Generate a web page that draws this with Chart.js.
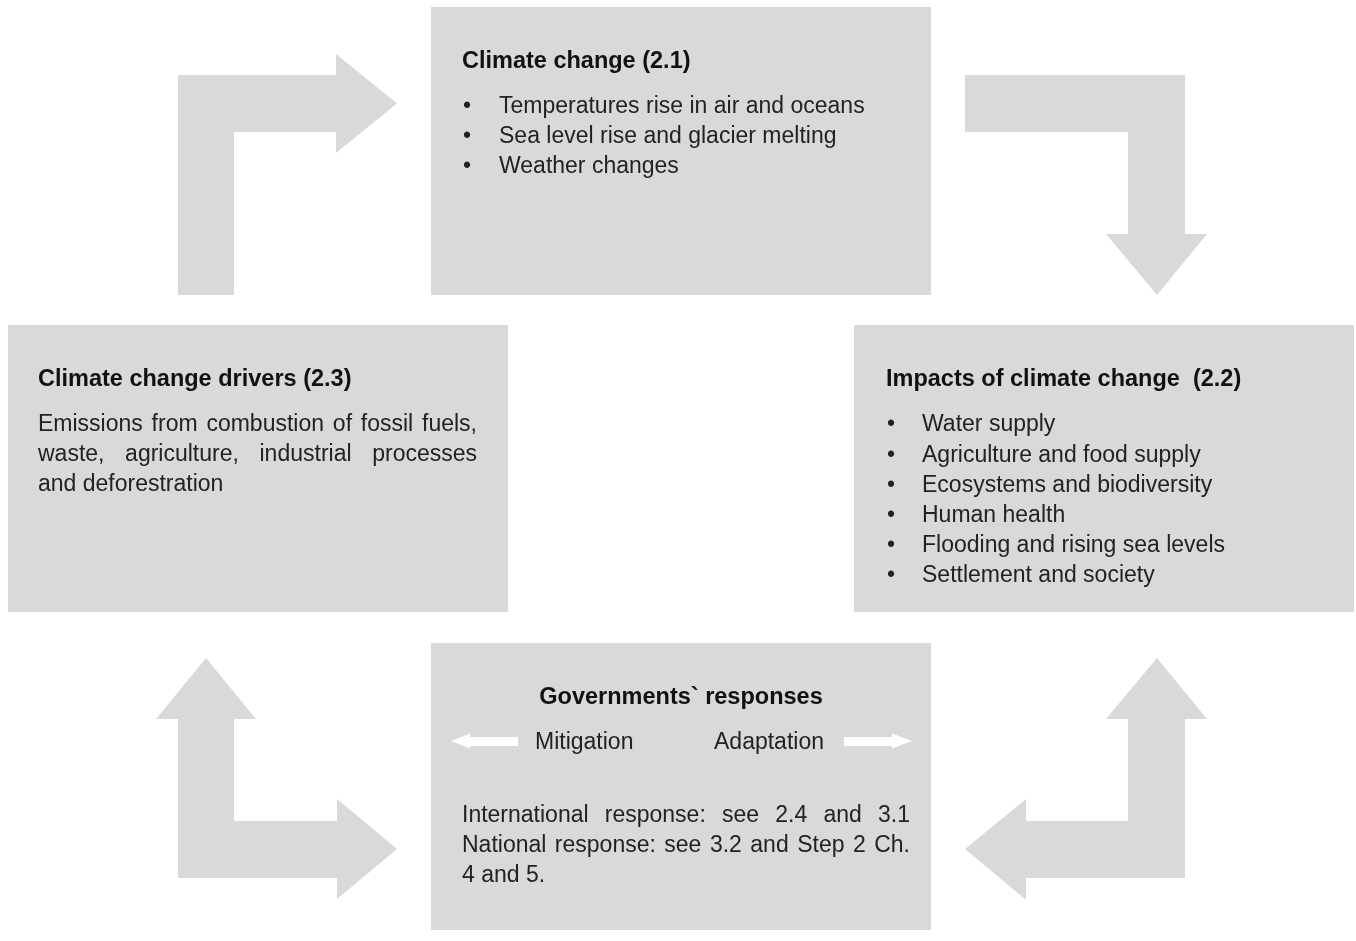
<!DOCTYPE html>
<html>
<head>
<meta charset="utf-8">
<script src="https://cdn.jsdelivr.net/npm/chart.js@4/dist/chart.umd.min.js"></script>
<style>
  body { margin: 0; background: #fff; }
  #diagram { display: block; }
</style>
</head>
<body>
<canvas id="diagram" width="1356" height="941"></canvas>
<script>
// Texto del diagrama
var climateTitle = 'Climate change (2.1)';
var climateItems = ['Temperatures rise in air and oceans', 'Sea level rise and glacier melting', 'Weather changes'];
var impactsTitle = 'Impacts of climate change  (2.2)';
var impactsItems = ['Water supply', 'Agriculture and food supply', 'Ecosystems and biodiversity', 'Human health', 'Flooding and rising sea levels', 'Settlement and society'];
var driversTitle = 'Climate change drivers (2.3)';
var driversLines = ['Emissions from combustion of fossil fuels,', 'waste, agriculture, industrial processes', 'and deforestration'];
var responsesTitle = 'Governments` responses';
var responsesSides = ['Mitigation', 'Adaptation'];
var responsesLines = ['International response: see 2.4 and 3.1', 'National response: see 3.2 and Step 2 Ch.', '4 and 5.'];

// Cajas (x0, y0, x1, y1) en coordenadas del diagrama
var boxClimate = [431, 7, 931, 295];
var boxDrivers = [8, 325, 508, 612];
var boxImpacts = [854, 325, 1354, 612];
var boxResponses = [431, 643, 931, 930];

// Flechas grises
var arrowTopLeft = [[178,295],[178,75],[336,75],[336,54],[397,103.5],[336,153],[336,132],[234,132],[234,295]];
var arrowTopRight = [[965,75],[1185,75],[1185,234],[1207,234],[1157,295],[1106,234],[1128,234],[1128,132],[965,132]];
var arrowBottomLeft = [[206,658],[256,719],[234,719],[234,821],[337,821],[337,799],[397,849],[337,899],[337,878],[178,878],[178,719],[156,719]];
var arrowBottomRight = [[1157,658],[1207,719],[1185,719],[1185,878],[1026,878],[1026,900],[965,849],[1026,799],[1026,821],[1128,821],[1128,719],[1106,719]];

// Flechas blancas (mitigación / adaptación)
var arrowMitigation = [[451,741],[470,733.5],[470,737],[518,737],[518,746],[470,746],[470,748.5]];
var arrowAdaptation = [[912,741],[892,733.5],[892,737],[844,737],[844,746],[892,746],[892,748.5]];

var GRIS = '#d9d9d9';

function rect(b){
  return [[b[0],b[1]],[b[2],b[1]],[b[2],b[3]],[b[0],b[3]]];
}
function forma(pts, color){
  var data = pts.map(p => ({x: p[0], y: p[1]}));
  data.push({x: pts[0][0], y: pts[0][1]});
  return {
    data: data,
    showLine: true,
    fill: 'shape',
    backgroundColor: color,
    borderColor: 'rgba(0,0,0,0)',
    borderWidth: 1,
    pointRadius: 0,
    tension: 0
  };
}

var FUENTE = '"Liberation Sans", Arial, Helvetica, sans-serif';
var TAM_TITULO = 23.5;
var TAM = 23;

function justificado(ctx, texto, x, y, ancho){
  var palabras = texto.split(' ');
  var total = palabras.reduce((s, w) => s + ctx.measureText(w).width, 0);
  var hueco = (ancho - total) / (palabras.length - 1);
  var cx = x;
  palabras.forEach(w => {
    ctx.fillText(w, cx, y);
    cx += ctx.measureText(w).width + hueco;
  });
}

var textos = {
  id: 'textos',
  afterDatasetsDraw(chart){
    var ctx = chart.ctx;
    var sx = chart.scales.x, sy = chart.scales.y;
    var X = v => sx.getPixelForValue(v), Y = v => sy.getPixelForValue(v);
    ctx.save();
    ctx.textBaseline = 'middle';

    // Climate change
    ctx.fillStyle = '#111';
    ctx.font = 'bold ' + TAM_TITULO + 'px ' + FUENTE;
    ctx.textAlign = 'left';
    ctx.fillText(climateTitle, X(462), Y(62));
    ctx.font = TAM + 'px ' + FUENTE;
    ctx.fillStyle = '#222';
    climateItems.forEach((t, i) => {
      ctx.textAlign = 'center';
      ctx.fillText('•', X(467), Y(107 + i * 30));
      ctx.textAlign = 'left';
      ctx.fillText(t, X(499), Y(107 + i * 30));
    });

    // Impacts
    ctx.fillStyle = '#111';
    ctx.font = 'bold ' + TAM_TITULO + 'px ' + FUENTE;
    ctx.fillText(impactsTitle, X(886), Y(380));
    ctx.font = TAM + 'px ' + FUENTE;
    ctx.fillStyle = '#222';
    impactsItems.forEach((t, i) => {
      var yy = 425 + i * 30.2;
      ctx.textAlign = 'center';
      ctx.fillText('•', X(891), Y(yy));
      ctx.textAlign = 'left';
      ctx.fillText(t, X(922), Y(yy));
    });

    // Drivers
    ctx.fillStyle = '#111';
    ctx.font = 'bold ' + TAM_TITULO + 'px ' + FUENTE;
    ctx.fillText(driversTitle, X(38), Y(380));
    ctx.font = TAM + 'px ' + FUENTE;
    ctx.fillStyle = '#222';
    driversLines.forEach((t, i) => {
      if (i < driversLines.length - 1) justificado(ctx, t, X(38), Y(425 + i * 30), X(477) - X(38));
      else ctx.fillText(t, X(38), Y(425 + i * 30));
    });

    // Responses
    ctx.fillStyle = '#111';
    ctx.font = 'bold ' + TAM_TITULO + 'px ' + FUENTE;
    ctx.textAlign = 'center';
    ctx.fillText(responsesTitle, X(681), Y(698));
    ctx.font = TAM + 'px ' + FUENTE;
    ctx.fillStyle = '#222';
    ctx.textAlign = 'left';
    ctx.fillText(responsesSides[0], X(535), Y(743));
    ctx.fillText(responsesSides[1], X(714), Y(743));
    responsesLines.forEach((t, i) => {
      if (i < responsesLines.length - 1) justificado(ctx, t, X(462), Y(816 + i * 30), X(910) - X(462));
      else ctx.fillText(t, X(462), Y(816 + i * 30));
    });
    ctx.restore();
  }
};

// Chart.js pinta el primer dataset encima: las flechas blancas van primero
var diagrama = new Chart(document.getElementById('diagram').getContext('2d'), {
  type: 'scatter',
  data: {
    datasets: [
      forma(arrowMitigation, '#ffffff'),
      forma(arrowAdaptation, '#ffffff'),
      forma(rect(boxClimate), GRIS),
      forma(rect(boxDrivers), GRIS),
      forma(rect(boxImpacts), GRIS),
      forma(rect(boxResponses), GRIS),
      forma(arrowTopLeft, GRIS),
      forma(arrowTopRight, GRIS),
      forma(arrowBottomLeft, GRIS),
      forma(arrowBottomRight, GRIS)
    ]
  },
  options: {
    responsive: false,
    animation: false,
    events: [],
    layout: { padding: 0 },
    plugins: { legend: { display: false }, tooltip: { enabled: false } },
    scales: {
      x: { type: 'linear', min: 0, max: 1356, display: false },
      y: { type: 'linear', min: 0, max: 941, reverse: true, display: false }
    }
  },
  plugins: [textos]
});
</script>
</body>
</html>
